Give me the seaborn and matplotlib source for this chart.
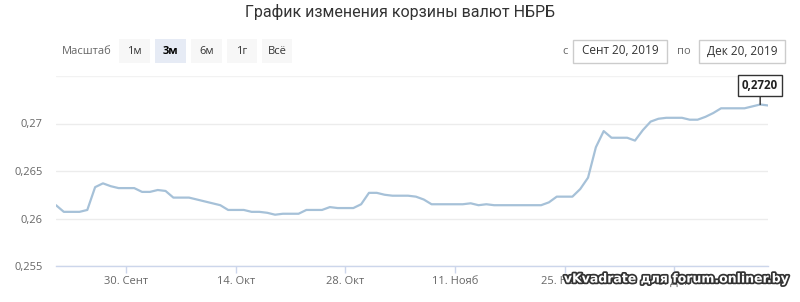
import numpy as np
import pandas as pd
import matplotlib
matplotlib.use("Agg")
import matplotlib.pyplot as plt
import seaborn as sns
from matplotlib.patches import Rectangle
import matplotlib.patheffects as pe

# ---------------- data ----------------
title = "График изменения корзины валют НБРБ"
start_date = "2019-09-21"
rates = [
    0.2614, 0.2607, 0.2607, 0.2607, 0.2609, 0.2633, 0.2637, 0.2634, 0.2632, 0.2632,
    0.2632, 0.2628, 0.2628, 0.2630, 0.2629, 0.2622, 0.2622, 0.2622, 0.2620, 0.2618,
    0.2616, 0.2614, 0.2609, 0.2609, 0.2609, 0.2607, 0.2607, 0.2606, 0.2604, 0.2605,
    0.2605, 0.2605, 0.2609, 0.2609, 0.2609, 0.2612, 0.2611, 0.2611, 0.2611, 0.2615,
    0.2627, 0.2627, 0.2625, 0.2624, 0.2624, 0.2624, 0.2623, 0.2620, 0.2615, 0.2615,
    0.2615, 0.2615, 0.2615, 0.2616, 0.2614, 0.2615, 0.2614, 0.2614, 0.2614, 0.2614,
    0.2614, 0.2614, 0.2614, 0.2617, 0.2623, 0.2623, 0.2623, 0.2631, 0.2643, 0.2675,
    0.2692, 0.2685, 0.2685, 0.2685, 0.2682, 0.2693, 0.2702, 0.2705, 0.2706, 0.2706,
    0.2706, 0.2704, 0.2704, 0.2707, 0.2711, 0.2716, 0.2716, 0.2716, 0.2716, 0.2718,
    0.2720, 0.2719,
]
xtick_dates = ["2019-09-30", "2019-10-14", "2019-10-28", "2019-11-11", "2019-11-25", "2019-12-09"]
xtick_labels = ["30. Сент", "14. Окт", "28. Окт", "11. Нояб", "25. Нояб", "9. Дек"]
ytick_values = [0.255, 0.26, 0.265, 0.27]
ytick_labels = ["0,255", "0,26", "0,265", "0,27"]
y_top = 0.275
range_label = "Масштаб"
range_buttons = ["1м", "3м", "6м", "1г", "Всё"]
selected_button = "3м"
date_from_label = "с"
date_from = "Сент 20, 2019"
date_to_label = "по"
date_to = "Дек 20, 2019"
tooltip_date = "2019-12-20"
tooltip_value = 0.2720
tooltip_label = "0,2720"
watermark = "vKvadrate для forum.onliner.by"

dates = pd.date_range(start_date, periods=len(rates), freq="D")
df = pd.DataFrame({"date": dates, "rate": rates})

# ---------------- style ----------------
sns.set_theme(style="white")
plt.rcParams["font.family"] = ["Open Sans", "DejaVu Sans"]

W, H = 800, 302
fig = plt.figure(figsize=(W / 100, H / 100), dpi=100)
fig.patch.set_facecolor("white")

ax = fig.add_axes([56 / W, 36 / H, 712 / W, 190 / H])
sns.lineplot(data=df, x="date", y="rate", ax=ax, color="#a6c1d8", linewidth=1.6)

ax.set_xlim(dates[0], dates[-1])
ax.set_ylim(ytick_values[0], y_top)
ax.set_xlabel("")
ax.set_ylabel("")

ax.set_yticks(ytick_values)
ax.set_yticklabels(ytick_labels)
ax.yaxis.grid(True, color="#ececec", linewidth=1)
ax.axhline(y_top, color="#f2f2f2", linewidth=1, zorder=0)
ax.set_axisbelow(True)

ax.set_xticks(pd.to_datetime(xtick_dates))
ax.set_xticklabels(xtick_labels)

for s in ["top", "right", "left"]:
    ax.spines[s].set_visible(False)
ax.spines["bottom"].set_color("#ccd6eb")
ax.spines["bottom"].set_linewidth(1)

ax.tick_params(axis="y", length=0, pad=9.5, labelsize=8, labelcolor="#666666")
ax.tick_params(axis="x", length=5, width=1, color="#ccd6eb", pad=2.5,
               labelsize=8, labelcolor="#666666", bottom=True)

# tooltip
ax.annotate(tooltip_label, xy=(pd.Timestamp(tooltip_date), tooltip_value),
            xytext=(0, 19), textcoords="offset pixels", ha="center", va="center",
            fontsize=8.3, fontweight="bold", color="#222222",
            bbox=dict(boxstyle="square,pad=0.32", fc="white", ec="#333333", lw=1),
            arrowprops=dict(arrowstyle="-", color="#333333", lw=1, shrinkA=0, shrinkB=0))

# ---------------- helpers (figure pixel coords, y from top) ----------------
def fig_rect(x0, y0, x1, y1, **kw):
    fig.add_artist(Rectangle((x0 / W, 1 - y1 / H), (x1 - x0) / W, (y1 - y0) / H,
                             transform=fig.transFigure, **kw))

def fig_text(x, y, s, **kw):
    fig.text(x / W, 1 - y / H, s, **kw)

# title
fig_text(400, 12, title, ha="center", va="center", fontsize=11.5, color="#333333",
         family=["Roboto", "DejaVu Sans"])

# range selector
fig_text(62, 51, range_label, ha="left", va="center", fontsize=8, color="#666666")
btn_x = [(119, 150), (155, 186), (191, 222), (227, 257), (262, 292)]
for (x0, x1), lab in zip(btn_x, range_buttons):
    sel = lab == selected_button
    fig_rect(x0, 39, x1, 63, facecolor="#e6ebf5" if sel else "#f7f7f7", edgecolor="none")
    fig_text((x0 + x1) / 2, 51, lab, ha="center", va="center", fontsize=8,
             color="#000000" if sel else "#333333", fontweight="bold" if sel else "normal")

# date inputs
fig_text(565, 51, date_from_label, ha="center", va="center", fontsize=8, color="#666666")
fig_rect(573, 40, 667, 63, facecolor="white", edgecolor="#cccccc", linewidth=1)
fig_text(620, 51, date_from, ha="center", va="center", fontsize=8.5, color="#333333")
fig_text(684, 51, date_to_label, ha="center", va="center", fontsize=8, color="#666666")
fig_rect(699, 40, 785, 63, facecolor="white", edgecolor="#cccccc", linewidth=1)
fig_text(742, 51, date_to, ha="center", va="center", fontsize=8.5, color="#333333")

# watermark
fig_text(676, 279, watermark, ha="center", va="center", fontsize=9, fontweight="bold",
         color="white", family=["DejaVu Sans"],
         path_effects=[pe.withStroke(linewidth=2.5, foreground="#333333")])

fig.savefig("out.png", dpi=100, facecolor="white")
